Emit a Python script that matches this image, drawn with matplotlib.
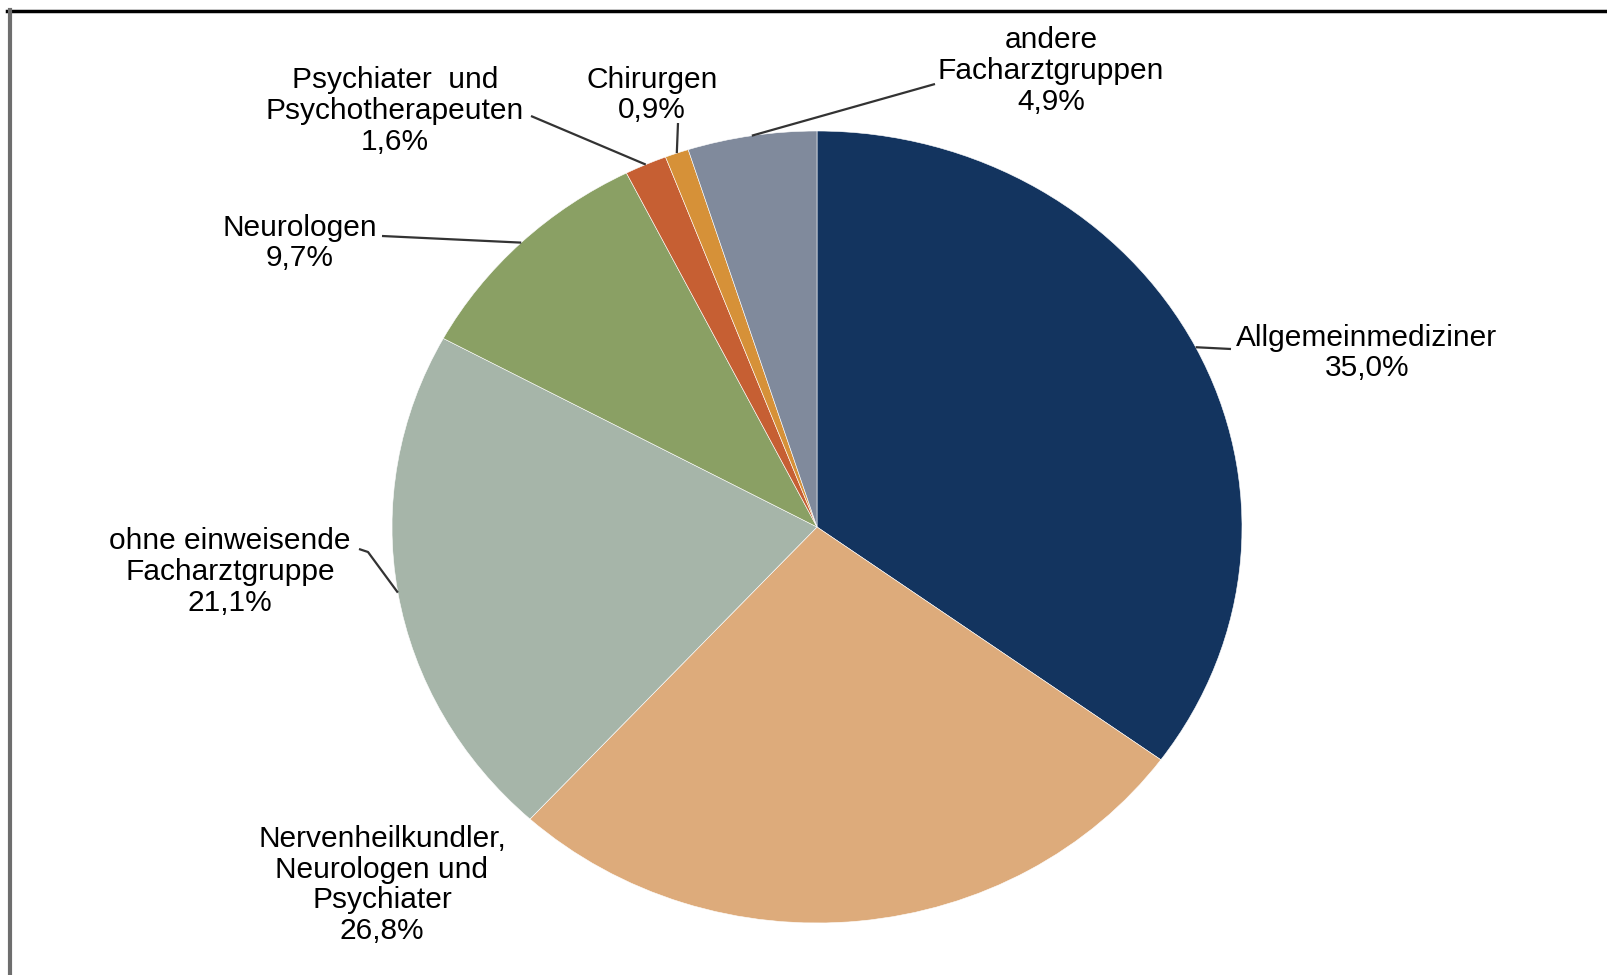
import numpy as np
import matplotlib.pyplot as plt

plt.rcParams['font.family'] = ['Liberation Sans', 'DejaVu Sans']

#### Einweiser nach Facharztgruppe ####
labels = ['Allgemeinmediziner',
          'Nervenheilkundler,\nNeurologen und\nPsychiater',
          'ohne einweisende\nFacharztgruppe',
          'Neurologen',
          'Psychiater  und\nPsychotherapeuten',
          'Chirurgen',
          'andere\nFacharztgruppen']
shares = [35.0, 26.8, 21.1, 9.7, 1.6, 0.9, 4.9]
colors = ['#13345f', '#ddab7b', '#a6b5a9', '#8aa064',
          '#c65f33', '#d69138', '#808a9c']

#### Label layout (pixel coordinates, y down) ####
text_pos = [(1367, 353), (382, 885), (230, 572), (300, 243),
            (395, 111), (652, 95), (1051, 71)]
# leader start points next to the text; None = no leader
leader_pos = [[(1231, 349)],
              None,
              [(359, 549), (368, 552)],
              [(382, 236)],
              [(531, 116)],
              [(678, 123)],
              [(935, 84)]]

W, H = 1608, 975
fig = plt.figure(figsize=(W / 100, H / 100), dpi=100)

# pie axes: unit ellipse fills this box
cx, cy, rx, ry = 817, 527, 425, 396
ax = fig.add_axes([(cx - rx) / W, (H - cy - ry) / H, 2 * rx / W, 2 * ry / H])
wedges, _ = ax.pie(shares, colors=colors, startangle=90, counterclock=False,
                   wedgeprops=dict(edgecolor='white', linewidth=0.4))
ax.set_aspect('auto')
ax.set_xlim(-1, 1)
ax.set_ylim(-1, 1)
ax.axis('off')

# overlay in pixel coordinates for text, leaders and frame
ov = fig.add_axes([0, 0, 1, 1], facecolor='none')
ov.set_xlim(0, W)
ov.set_ylim(H, 0)
ov.axis('off')

to_px = lambda p: ov.transData.inverted().transform(ax.transData.transform(p))

for w, lab, tp, lp, val in zip(wedges, labels, text_pos, leader_pos, shares):
    txt = lab + '\n' + ('%.1f%%' % val).replace('.', ',')
    ov.text(tp[0], tp[1], txt, ha='center', va='center', multialignment='center',
            fontsize=21.5, linespacing=1.13, color='black')
    if lp is None:
        continue
    a = np.deg2rad((w.theta1 + w.theta2) / 2)
    ex, ey = to_px((np.cos(a), np.sin(a)))
    xs = [p[0] for p in lp] + [ex]
    ys = [p[1] for p in lp] + [ey]
    ov.plot(xs, ys, color='#333333', lw=1.6, solid_capstyle='butt')

# frame lines
ov.plot([7, W], [11, 11], color='black', lw=2.5)
ov.plot([10, 10], [10, H], color='#6e6e6e', lw=3)

fig.savefig('out.png', dpi=100, facecolor='white')
